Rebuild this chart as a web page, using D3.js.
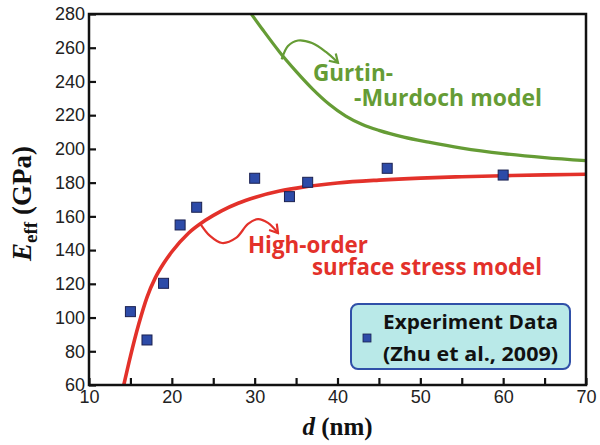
<!DOCTYPE html>
<html>
<meta charset="utf-8">
<head>
    <title>Effective modulus vs diameter</title>
    <style>
    body { margin: 0; background: #fff; }
    svg { display: block; }
    .tick text { font-family: "Liberation Sans", Arial, sans-serif; font-size: 18px; fill: #222; }
    .note { font-family: "Open Sans", sans-serif; font-weight: 700; }
    </style>
<script src="https://d3js.org/d3.v7.min.js"></script>
</head>
<body>
<svg></svg>
<script>

// experiment points (Zhu et al., 2009)
var expD = [15, 17, 19, 21, 23, 30, 34.2, 36.4, 46, 60];
var expE = [103.5, 86.7, 120.3, 154.9, 165.4, 182.6, 171.7, 180.2, 188.5, 184.5];

// high-order surface stress model
var redD = [14.2, 15, 16, 17, 18, 19, 20, 22, 24, 26, 28, 30, 33, 36, 40, 45, 50, 55, 60, 65, 70];
var redE = [60, 77, 96, 112, 123.5, 132, 139, 150, 157.5, 163.3, 167.8, 171.2, 175, 177.5, 179.8, 181.5, 182.7, 183.5, 184.1, 184.6, 185];

// Gurtin-Murdoch model
var greenD = [29.6, 31, 33, 35, 37, 39, 41, 43, 45, 48, 51, 55, 60, 65, 70];
var greenE = [280, 270.5, 257.5, 246, 235.5, 226.5, 219.5, 214.5, 211, 207, 204, 200.5, 197.2, 194.8, 193];

// annotation arrows (data units)
var greenArrowD = [33.26, 34.02, 35.23, 36.92, 38.61, 40.06];
var greenArrowE = [253.1, 261.0, 264.3, 262.8, 257.5, 251.1];
var redArrowD = [23.4, 24.61, 26.06, 27.75, 29.2, 30.4, 31.61, 32.82];
var redArrowE = [155.9, 148.4, 144.2, 147.2, 155.5, 158.4, 156.1, 150.1];

var xTicks = [10, 15, 20, 25, 30, 35, 40, 45, 50, 55, 60, 65, 70];
var xLabels = [10, 20, 30, 40, 50, 60, 70];
var yTicks = [60, 80, 100, 120, 140, 160, 180, 200, 220, 240, 260, 280];

var width = 600, height = 445;
var margin = {top: 14, right: 14, bottom: 60, left: 89};

var svg = d3.select("svg")
    .attr("width", width)
    .attr("height", height);

var x = d3.scaleLinear().domain([10, 70]).range([margin.left, width - margin.right]);
var y = d3.scaleLinear().domain([60, 280]).range([height - margin.bottom, margin.top]);

var red = "#e3312a", green = "#659c35", blue = "#2d4ba8";

svg.append("defs").append("clipPath").attr("id", "plot")
    .append("rect")
    .attr("x", x(10)).attr("y", y(280))
    .attr("width", x(70) - x(10)).attr("height", y(60) - y(280));

function arrowHead(id, color) {
    svg.select("defs").append("marker")
        .attr("id", id)
        .attr("viewBox", "-10 -6 12 12")
        .attr("refX", 0).attr("refY", 0)
        .attr("markerWidth", 12).attr("markerHeight", 12)
        .attr("markerUnits", "userSpaceOnUse")
        .attr("orient", "auto")
        .append("path")
        .attr("d", "M-8,-5 L0,0 L-8,5")
        .attr("fill", "none")
        .attr("stroke", color)
        .attr("stroke-width", 2.2);
}
arrowHead("ga", green);
arrowHead("ra", red);

var curveLine = d3.line()
    .x(d => x(d[0]))
    .y(d => y(d[1]))
    .curve(d3.curveMonotoneX);

var arrowLine = d3.line()
    .x(d => x(d[0]))
    .y(d => y(d[1]))
    .curve(d3.curveCatmullRom);

var plot = svg.append("g").attr("clip-path", "url(#plot)");

plot.append("path")
    .datum(d3.zip(greenD, greenE))
    .attr("d", curveLine)
    .attr("fill", "none")
    .attr("stroke", green)
    .attr("stroke-width", 3.2);

plot.append("path")
    .datum(d3.zip(redD, redE))
    .attr("d", curveLine)
    .attr("fill", "none")
    .attr("stroke", red)
    .attr("stroke-width", 3.6);

// arrows
svg.append("path")
    .datum(d3.zip(greenArrowD, greenArrowE))
    .attr("d", arrowLine)
    .attr("fill", "none")
    .attr("stroke", green)
    .attr("stroke-width", 2.2)
    .attr("marker-end", "url(#ga)");

svg.append("path")
    .datum(d3.zip(redArrowD, redArrowE))
    .attr("d", arrowLine)
    .attr("fill", "none")
    .attr("stroke", red)
    .attr("stroke-width", 2.2)
    .attr("marker-end", "url(#ra)");

// experiment squares
svg.append("g")
    .selectAll("rect")
    .data(d3.zip(expD, expE))
    .join("rect")
    .attr("x", d => x(d[0]) - 5)
    .attr("y", d => y(d[1]) - 5)
    .attr("width", 10)
    .attr("height", 10)
    .attr("fill", blue)
    .attr("stroke", "#1b2150")
    .attr("stroke-width", 1);

// axes
var xAxis = svg.append("g")
    .attr("transform", "translate(0," + y(60) + ")")
    .call(d3.axisBottom(x)
        .tickValues(xTicks)
        .tickSize(-7)
        .tickPadding(5)
        .tickFormat(d => xLabels.indexOf(d) >= 0 ? d : ""));
var yAxis = svg.append("g")
    .attr("transform", "translate(" + x(10) + ",0)")
    .call(d3.axisLeft(y)
        .tickValues(yTicks)
        .tickSize(-7)
        .tickPadding(4));

[xAxis, yAxis].forEach(g => {
    g.select(".domain").remove();
    g.selectAll(".tick line").attr("stroke", "#111").attr("stroke-width", 2.2);
});

// frame
svg.append("rect")
    .attr("x", x(10)).attr("y", y(280))
    .attr("width", x(70) - x(10)).attr("height", y(60) - y(280))
    .attr("fill", "none")
    .attr("stroke", "#111")
    .attr("stroke-width", 2.5);

// axis titles
svg.append("text")
    .attr("x", (x(10) + x(70)) / 2)
    .attr("y", 435)
    .attr("text-anchor", "middle")
    .attr("font-family", "'Liberation Serif', 'Times New Roman', serif")
    .attr("font-weight", "bold")
    .attr("font-size", 25)
    .attr("fill", "#111")
    .call(t => {
        t.append("tspan").attr("font-style", "italic").text("d");
        t.append("tspan").text(" (nm)");
    });

svg.append("text")
    .attr("transform", "translate(31," + ((y(60) + y(280)) / 2 + 4) + ") rotate(-90)")
    .attr("text-anchor", "middle")
    .attr("font-family", "'Liberation Serif', 'Times New Roman', serif")
    .attr("font-weight", "bold")
    .attr("font-size", 27)
    .attr("fill", "#111")
    .call(t => {
        t.append("tspan").attr("font-style", "italic").text("E");
        t.append("tspan").attr("font-size", 19).attr("dy", 6).text("eff");
        t.append("tspan").attr("dy", -6).text(" (GPa)");
    });

// model labels
var notes = [
    {text: "Gurtin-", x: 313, y: 81, w: 80, color: green},
    {text: "-Murdoch model", x: 354, y: 106, w: 188, color: green},
    {text: "High-order", x: 248, y: 253, w: 120, color: red},
    {text: "surface stress model", x: 312, y: 275, w: 230, color: red}
];
svg.append("g")
    .selectAll("text")
    .data(notes)
    .join("text")
    .attr("class", "note")
    .attr("x", d => d.x)
    .attr("y", d => d.y)
    .attr("font-size", 23)
    .attr("textLength", d => d.w)
    .attr("lengthAdjust", "spacingAndGlyphs")
    .attr("fill", d => d.color)
    .text(d => d.text);

// legend
var lg = svg.append("g").attr("transform", "translate(351,304)");
lg.append("rect")
    .attr("width", 219).attr("height", 65)
    .attr("rx", 7)
    .attr("fill", "#b9e9e8")
    .attr("stroke", "#3050a8")
    .attr("stroke-width", 2);
lg.append("rect")
    .attr("x", 12).attr("y", 30)
    .attr("width", 8).attr("height", 8)
    .attr("fill", blue)
    .attr("stroke", "#1b2150")
    .attr("stroke-width", 0.8);
lg.selectAll("text.lt")
    .data(["Experiment Data", "(Zhu et al., 2009)"])
    .join("text")
    .attr("class", "note lt")
    .attr("x", 32)
    .attr("y", (d, i) => 25 + i * 32)
    .attr("font-size", 20)
    .attr("textLength", 175)
    .attr("lengthAdjust", "spacingAndGlyphs")
    .attr("fill", "#111")
    .text(d => d);

</script>
</body>
</html>
